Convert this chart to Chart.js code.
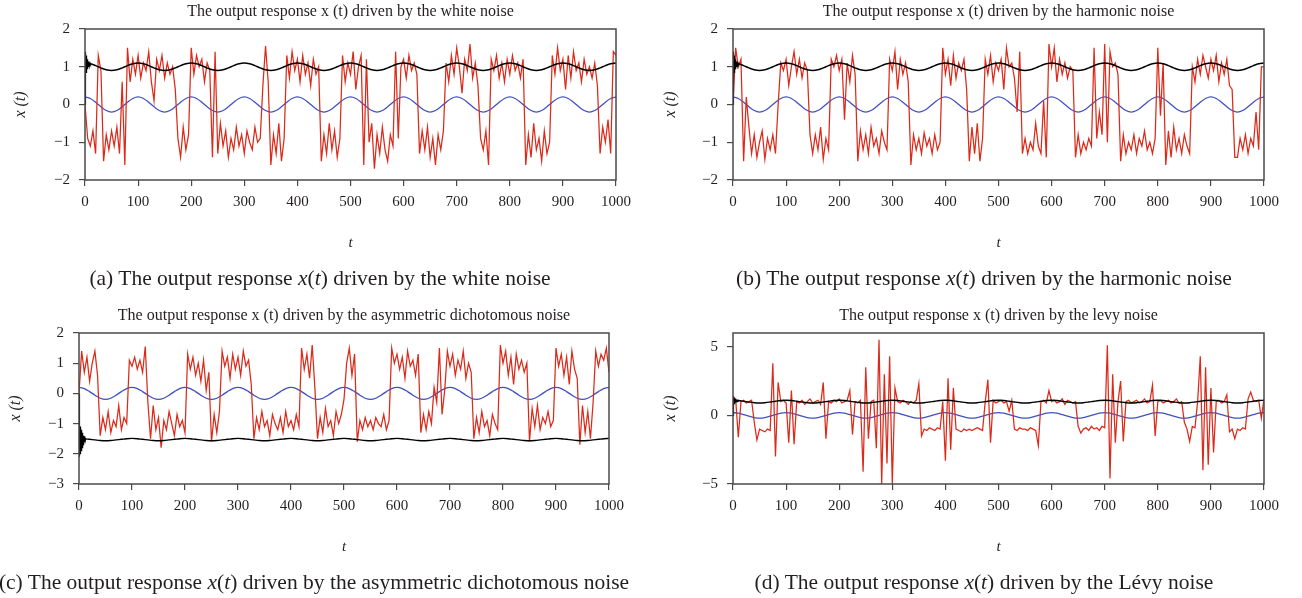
<!DOCTYPE html>
<html><head><meta charset="utf-8">
<script src="https://cdn.jsdelivr.net/npm/chart.js@4.4.0/dist/chart.umd.min.js"></script>
<style>
html,body{margin:0;padding:0;background:#fff;}
body{width:1302px;height:598px;position:relative;overflow:hidden;font-family:'Liberation Serif','DejaVu Serif',serif;color:#231f20;}
canvas{position:absolute;}
.ttl{position:absolute;width:700px;text-align:center;font-size:16px;line-height:18px;white-space:nowrap;}
.cap{position:absolute;width:800px;text-align:center;font-size:21.5px;line-height:24px;white-space:nowrap;}
</style></head><body>
<canvas id="cA" width="650" height="300" style="left:0;top:0"></canvas>
<canvas id="cB" width="652" height="300" style="left:650px;top:0"></canvas>
<canvas id="cC" width="650" height="298" style="left:0;top:300px"></canvas>
<canvas id="cD" width="652" height="298" style="left:650px;top:300px"></canvas>
<div class="ttl" style="left:0.5px;top:2px">The output response x (t) driven by the white noise</div>
<div class="ttl" style="left:648.5px;top:2px">The output response x (t) driven by the harmonic noise</div>
<div class="ttl" style="left:-6px;top:306px">The output response x (t) driven by the asymmetric dichotomous noise</div>
<div class="ttl" style="left:648.5px;top:306px">The output response x (t) driven by the levy noise</div>
<div class="cap" style="left:-80px;top:266px">(a) The output response <i>x</i>(<i>t</i>) driven by the white noise</div>
<div class="cap" style="left:584px;top:266px">(b) The output response <i>x</i>(<i>t</i>) driven by the harmonic noise</div>
<div class="cap" style="left:-86px;top:570px">(c) The output response <i>x</i>(<i>t</i>) driven by the asymmetric dichotomous noise</div>
<div class="cap" style="left:584px;top:570px">(d) The output response <i>x</i>(<i>t</i>) driven by the Lévy noise</div>
<script>
// ---- data (red series sampled every 5 time units, t = 0..1000) ----
const RED_STEP = 5;
const redWhite = [
 0.0,-0.9,-1.1,-0.7,-1.3, 1.3, 0.9,-1.5,-0.8,-1.2,
-0.7,-1.1,-0.6,-1.3, 0.6,-1.6, 1.5, 0.6, 1.2, 0.8,
 1.3, 0.7, 1.1, 0.9, 1.4, 0.6, 0.1, 1.2, 0.9, 1.3,
 0.7, 1.1, 0.8, 1.0, 0.4,-0.9,-1.4,-0.6,-1.2,-0.8,
 1.5, 0.8, 1.3, 1.0, 1.2, 0.6, 1.1, 0.9,-1.4, 1.4,
-1.3,-0.5,-1.1,-0.7,-1.4,-0.9,-1.2,-0.6,-1.1,-0.8,
-1.3,-0.7,-1.0,-1.2,-0.6,-1.0,-0.9, 0.5, 1.55,0.6,
-1.6,-0.8,-1.3,-0.5,-1.5,-0.9, 1.3, 0.7, 1.4, 0.9,
 1.2, 0.6, 1.3, 0.8, 1.1, 0.5, 1.2, 0.8, 1.0,-1.5,
-0.8,-1.3,-0.5,-1.2,-0.7,-1.4,-0.9, 1.3, 0.6, 1.1,
 0.8, 1.4, 0.4, 1.0, 1.3,-1.6, 1.2,-1.0,-0.5,-1.7,
-0.8,-1.3,-0.6,-1.2,-1.5,-0.8,-1.1, 1.4,-0.9, 1.0,
 1.2, 0.7, 1.3, 0.9, 1.1, 0.8,-1.3,-0.7,-1.2,-0.6,
-1.4,-0.9,-1.6,-0.8,-1.2,-0.7, 1.1, 0.6, 1.3, 0.8,
 1.5, 1.0, 0.3, 1.2, 0.9, 1.6, 0.7, 1.1, 0.5,-0.9,
-1.2,-0.7,-1.6, 1.2, 0.9, 1.3, 0.7, 1.1, 0.6, 1.2,
 0.8, 1.3, 0.9, 1.1, 0.7, 1.2,-1.6,-0.8,-1.4,-0.5,
-1.2,-0.9,-1.5,-0.7,-1.3,-1.0, 1.3, 0.8, 1.5, 0.9,
 1.2, 0.4, 1.3, 0.7, 1.4, 0.9, 1.1, 0.6, 1.2, 0.8,
 1.0, 0.7, 1.1, 0.5,-1.3,-0.6,-1.0,-0.4,-1.3, 1.4,
 1.3];
const redHarmonic = [
 0.0, 1.5, 1.0, 1.2,-1.5, 0.2,-0.6,-1.3,-0.8,-1.4,
-1.0,-0.7,-1.45,-0.9,-1.2,-0.8,-1.3, 0.0, 1.1, 0.9,
 1.2, 0.5, 1.0, 1.4, 0.8, 1.2, 0.7, 1.1, 0.9,-0.8,
-1.3,-0.8,-1.2,-0.6,-1.45,-0.9,-1.2, 1.2, 1.0, 1.3,
 0.9, 1.2,-0.4, 1.1, 0.6, 1.3, 0.8,-1.5,-0.7,-1.2,
-0.8,-1.3,-0.6,-1.1,-0.9,-1.3,-0.7,-1.0,-1.2, 1.2,
 0.9, 1.4, 0.4, 1.2, 0.8, 1.1, 0.6,-1.6,-0.8,-1.2,
-0.9,-1.3,-0.75,-1.1,-0.9,-1.3,-0.8,-1.2,-1.0, 1.5,
 0.8, 1.2, 0.5, 1.3, 0.7, 1.1, 0.9, 1.2, 0.4,-1.5,
-0.6,-1.3,-0.5,-1.5,-0.9, 1.2, 0.8, 1.3, 0.6, 1.1,
 0.9, 1.2, 0.4, 1.5, 1.0, 1.1, 0.7,-0.2, 1.4,-1.3,
-0.9,-1.3,-1.0,-1.2,-0.5,-1.1,-1.3, 0.1,-1.4, 1.6,
 1.0, 1.5, 0.6, 1.2, 0.8, 1.1, 0.7, 1.0, 0.9,-1.4,
-0.8,-1.3,-1.0,-1.2,-0.9,-1.1, 1.5,-0.9,-0.2,-0.8,
 1.6,-1.0, 1.4, 1.0, 1.1, 0.8,-1.5,-0.8,-1.3,-1.0,
-1.2,-0.8,-1.3,-0.9,-1.1,-0.7,-1.2,-1.0,-1.3,-0.9,
 1.5,-0.3, 1.1,-1.6,-0.7,-1.4,-0.6,-1.2,-0.9,-1.3,
-0.8,-1.1,-1.3, 1.0, 0.6, 1.2, 0.8, 1.3, 1.0, 0.7,
 1.2, 0.9, 1.3, 0.6, 1.1, 0.8, 1.2, 0.5, 0.4,-1.4,
-1.4,-0.9,-1.2,-0.8,-1.3,-0.9,-1.1,-0.2,-1.2, 1.0,
 1.0];
const redDichotomous = [
 0.0, 1.4, 0.7, 1.2, 0.4, 1.0, 1.4, 0.6,-1.4,-0.8,
-1.2,-0.6,-1.3,-0.9,-1.1,-0.4,-1.2,-0.8,-1.0, 1.1,
 0.9, 1.2, 0.8, 1.1, 0.7, 1.55,-0.3,-1.5,-0.4,-1.2,
-0.8,-1.8,-0.9,-1.2,-0.6,-1.0,-1.4,-0.7,-1.1,-0.9,
-1.3, 1.3, 0.8, 1.2, 0.6, 1.0, 0.4, 1.1, 0.1, 0.7,
-1.6,-0.7,-1.3,-0.6, 1.4, 0.9, 1.2, 0.5, 1.3, 0.8,
 1.2, 0.6, 1.4, 0.9, 1.1, 0.3,-1.5,-0.8,-1.2,-0.6,
-1.1,-0.9,-1.4,-0.7,-1.0,-1.2,-0.8,-1.3,-0.6,-1.1,
-0.9,-1.2,-0.7,-1.1, 1.5, 0.8, 1.3, 0.5, 1.6, 0.2,
-1.5,-0.8,-1.3,-0.5,-1.1,-0.9,-1.4,-0.6,-1.0,-0.7,
-0.2, 1.0, 1.5, 0.6, 1.3,-1.6,-0.9,-1.2,-0.8,-1.1,
-0.9,-1.2,-0.8,-1.0,-1.1,-0.7,-1.2,-0.9, 1.5, 1.0,
 1.3, 0.8, 1.2, 0.5, 1.4, 0.9, 1.1, 0.6, 1.3,-1.3,
-0.7,-1.2,-0.6,-1.0, 0.2,-0.3, 1.5,-0.7, 0.1, 1.4,
 0.9, 1.3, 0.6, 1.1, 0.8, 1.4, 0.5, 1.0, 0.7,-1.5,
-0.8,-1.3,-0.6,-1.1,-0.9,-1.4,-0.7,-1.0,-1.2, 1.6,
 1.0, 1.4, 0.6, 1.2, 0.3, 1.3, 0.8, 1.1, 0.7, 1.0,
-1.6,-0.5,-1.1,-0.4,-1.2,-0.8,-1.0,-0.6,-1.1,-0.9,
 1.5, 0.9, 1.3, 0.6, 1.2, 0.3, 1.4, 0.8, 0.5,-1.7,
-0.4,-1.3,-0.6,-1.5,-0.3, 1.4, 0.9, 1.3, 1.1, 1.5,
 0.7];
const redLevy = [
 1.0, 1.2,-1.6, 1.0, 1.1, 0.9, 1.0, 1.1,-0.5,-1.8,
-1.0,-1.1,-1.2,-1.0,-1.1, 3.8,-3.0, 2.4, 1.0, 1.1,
 0.9,-2.0, 1.8,-2.1, 1.0, 0.9, 1.1, 0.8, 1.0, 1.2,
 0.9, 1.0, 1.1, 0.8, 2.4,-1.7, 1.0, 0.9, 1.1, 1.0,
 1.2, 0.9, 1.0, 1.1, 1.8,-1.4, 1.0, 0.9, 1.1,-4.1,
 3.5,-1.7, 1.0, 1.1,-2.4, 5.5,-5.0, 3.0,-3.5, 4.3,
-5.0, 2.0, 1.0, 0.9, 1.1, 1.0, 0.8, 1.0, 0.9, 1.1,
 2.3,-1.5,-1.0,-1.1,-0.9,-1.0,-1.1,-0.9,-1.0, 1.0,
-3.3, 2.7,-2.5, 2.0,-1.0,-1.1,-1.2,-1.0,-1.1,-1.0,
-1.1,-1.0,-0.9,-1.0,-1.1, 1.0, 2.6,-2.0, 1.1, 0.9,
 1.0, 1.1, 0.9, 1.0, 0.3, 1.1,-1.0,-1.1,-0.9,-1.0,
-1.0,-1.1,-0.9,-1.0,-1.1,-2.2, 1.0, 1.1, 0.9, 1.8,
 1.0, 1.1, 0.9, 1.0, 1.2, 0.8, 1.1, 1.0, 0.9, 1.0,
-0.8,-1.3,-1.0,-0.9,-1.1,-0.8,-1.0,-0.9,-1.1,-0.8,
-0.9, 5.1,-4.6, 3.0,-2.0, 1.0, 2.5,-1.9, 1.0, 1.1,
 0.9, 1.0, 1.1, 0.9, 1.0, 1.2, 0.9, 1.0, 2.2,-1.5,
 1.0, 1.1, 0.9, 1.0, 1.1, 0.9, 1.0, 1.2, 0.9, 1.0,
-0.5,-1.0,-1.9,-0.8,-0.9, 1.0, 4.3,-4.0, 3.5,-3.6,
 2.0,-2.7, 1.0, 1.1, 0.9, 1.0, 1.5,-1.2,-1.0,-1.7,
-1.0,-1.1,-0.9,-1.0, 1.2, 1.7, 1.1, 1.0, 1.1,-0.2,
 1.2];
// periodic input (blue) and steady-state response (black), sampled every 10 time units
const SMOOTH_STEP = 10;
const blueInput = [
 0.2,0.16,0.06,-0.06,-0.16,-0.2,-0.16,-0.06,0.06,0.16,
 0.2,0.16,0.06,-0.06,-0.16,-0.2,-0.16,-0.06,0.06,0.16,
 0.2,0.16,0.06,-0.06,-0.16,-0.2,-0.16,-0.06,0.06,0.16,
 0.2,0.16,0.06,-0.06,-0.16,-0.2,-0.16,-0.06,0.06,0.16,
 0.2,0.16,0.06,-0.06,-0.16,-0.2,-0.16,-0.06,0.06,0.16,
 0.2,0.16,0.06,-0.06,-0.16,-0.2,-0.16,-0.06,0.06,0.16,
 0.2,0.16,0.06,-0.06,-0.16,-0.2,-0.16,-0.06,0.06,0.16,
 0.2,0.16,0.06,-0.06,-0.16,-0.2,-0.16,-0.06,0.06,0.16,
 0.2,0.16,0.06,-0.06,-0.16,-0.2,-0.16,-0.06,0.06,0.16,
 0.2,0.16,0.06,-0.06,-0.16,-0.2,-0.16,-0.06,0.06,0.16,
 0.2];
const blackUpper = [
 1.1,1.08,1.03,0.97,0.92,0.9,0.92,0.97,1.03,1.08,
 1.1,1.08,1.03,0.97,0.92,0.9,0.92,0.97,1.03,1.08,
 1.1,1.08,1.03,0.97,0.92,0.9,0.92,0.97,1.03,1.08,
 1.1,1.08,1.03,0.97,0.92,0.9,0.92,0.97,1.03,1.08,
 1.1,1.08,1.03,0.97,0.92,0.9,0.92,0.97,1.03,1.08,
 1.1,1.08,1.03,0.97,0.92,0.9,0.92,0.97,1.03,1.08,
 1.1,1.08,1.03,0.97,0.92,0.9,0.92,0.97,1.03,1.08,
 1.1,1.08,1.03,0.97,0.92,0.9,0.92,0.97,1.03,1.08,
 1.1,1.08,1.03,0.97,0.92,0.9,0.92,0.97,1.03,1.08,
 1.1,1.08,1.03,0.97,0.92,0.9,0.92,0.97,1.03,1.08,
 1.1];
const blackLower = [
 -1.49,-1.5,-1.52,-1.54,-1.56,-1.57,-1.56,-1.54,-1.52,-1.5,
 -1.49,-1.5,-1.52,-1.54,-1.56,-1.57,-1.56,-1.54,-1.52,-1.5,
 -1.49,-1.5,-1.52,-1.54,-1.56,-1.57,-1.56,-1.54,-1.52,-1.5,
 -1.49,-1.5,-1.52,-1.54,-1.56,-1.57,-1.56,-1.54,-1.52,-1.5,
 -1.49,-1.5,-1.52,-1.54,-1.56,-1.57,-1.56,-1.54,-1.52,-1.5,
 -1.49,-1.5,-1.52,-1.54,-1.56,-1.57,-1.56,-1.54,-1.52,-1.5,
 -1.49,-1.5,-1.52,-1.54,-1.56,-1.57,-1.56,-1.54,-1.52,-1.5,
 -1.49,-1.5,-1.52,-1.54,-1.56,-1.57,-1.56,-1.54,-1.52,-1.5,
 -1.49,-1.5,-1.52,-1.54,-1.56,-1.57,-1.56,-1.54,-1.52,-1.5,
 -1.49,-1.5,-1.52,-1.54,-1.56,-1.57,-1.56,-1.54,-1.52,-1.5,
 -1.49];
// start-up transient of the black curve
const transientT = [0,0.5,1,1.5,2,2.5,3,3.5,4,4.5,5,5.5,6,6.5,7,7.5,8,8.5,9,9.5,10,10.5,11,11.5,12];
const transientUpper = [0,1.35,0.8,1.4,0.85,1.3,0.9,1.25,0.95,1.2,0.98,1.16,1.0,1.14,1.02,1.12,1.04,1.11,1.05,1.1,1.06,1.09,1.07,1.08,1.08];
const transientLower = [0,-0.9,-2.1,-1.0,-2.0,-1.1,-1.95,-1.15,-1.9,-1.2,-1.85,-1.25,-1.8,-1.3,-1.75,-1.35,-1.7,-1.4,-1.65,-1.42,-1.6,-1.45,-1.55,-1.48,-1.52];
// tick labels
const xTicks = [0,100,200,300,400,500,600,700,800,900,1000];
const yTicksAB = [-2,-1,0,1,2];
const yTicksC = [-3,-2,-1,0,1,2];
const yTicksD = [-5,0,5];

// ---- helpers ----
const FONT = "'Liberation Serif','DejaVu Serif',serif";
const onGrid = (vals, step) => vals.map((v, i) => ({x: i * step, y: v}));
const paired = (ts, vals) => ts.map((t, i) => ({x: t, y: vals[i]}));
const fmt = v => v < 0 ? '\u2212' + Math.abs(v) : String(v);

const framePlugin = {
  id: 'frame',
  afterDatasetsDraw(chart) {
    const {ctx, chartArea: a} = chart;
    ctx.save();
    ctx.strokeStyle = '#4a4a4a';
    ctx.lineWidth = 1.5;
    ctx.strokeRect(a.left, a.top, a.right - a.left, a.bottom - a.top);
    ctx.restore();
  }
};

function panel(id, red, black, transient, yMin, yMax, yTicks, pad, yWidth, yTitlePad) {
  new Chart(document.getElementById(id), {
    type: 'line',
    data: {datasets: [
      {data: paired(transientT, transient), borderColor: '#000', borderWidth: 1.1},
      {data: onGrid(black, SMOOTH_STEP), borderColor: '#000', borderWidth: 1.4, cubicInterpolationMode: 'monotone'},
      {data: onGrid(red, RED_STEP), borderColor: '#dc2a1a', borderWidth: 1.25},
      {data: onGrid(blueInput, SMOOTH_STEP), borderColor: '#3f51c0', borderWidth: 1.3, cubicInterpolationMode: 'monotone'}
    ]},
    options: {
      responsive: false, animation: false, devicePixelRatio: 1,
      layout: {padding: pad},
      elements: {point: {radius: 0}, line: {tension: 0}},
      plugins: {legend: {display: false}, tooltip: {enabled: false}, title: {display: false}},
      scales: {
        x: {
          type: 'linear', min: 0, max: 1000,
          afterBuildTicks: s => { s.ticks = xTicks.map(v => ({value: v})); },
          afterFit: s => { s.height = 72; },
          ticks: {font: {family: FONT, size: 15}, color: '#231f20', padding: 7, maxRotation: 0, autoSkip: false, callback: fmt},
          grid: {drawOnChartArea: false, drawTicks: true, tickLength: 6, color: '#4a4a4a', lineWidth: 1.2},
          border: {display: false},
          title: {display: true, text: 't', font: {family: FONT, size: 15, style: 'italic'}, color: '#231f20', padding: {top: 0, bottom: 0}}
        },
        y: {
          type: 'linear', min: yMin, max: yMax,
          afterBuildTicks: s => { s.ticks = yTicks.map(v => ({value: v})); },
          afterFit: s => { s.width = yWidth; },
          ticks: {font: {family: FONT, size: 15}, color: '#231f20', padding: 9, autoSkip: false, callback: fmt},
          grid: {drawOnChartArea: false, drawTicks: true, tickLength: 6, color: '#4a4a4a', lineWidth: 1.2},
          border: {display: false},
          title: {display: true, text: 'x (t)', font: {family: FONT, size: 16, style: 'italic'}, color: '#231f20', padding: {top: yTitlePad, bottom: 0}}
        }
      }
    },
    plugins: [framePlugin]
  });
}

panel('cA', redWhite, blackUpper, transientUpper, -2, 2, yTicksAB, {left: 0, top: 29, right: 34, bottom: 48}, 85, 11);
panel('cB', redHarmonic, blackUpper, transientUpper, -2, 2, yTicksAB, {left: 0, top: 29, right: 38, bottom: 48}, 83, 11);
panel('cC', redDichotomous, blackLower, transientLower, -3, 2, yTicksC, {left: 0, top: 33, right: 41, bottom: 42}, 79, 6);
panel('cD', redLevy, blackUpper, transientUpper, -5, 6, yTicksD, {left: 0, top: 33, right: 38, bottom: 42}, 83, 11);
</script>
</body></html>
